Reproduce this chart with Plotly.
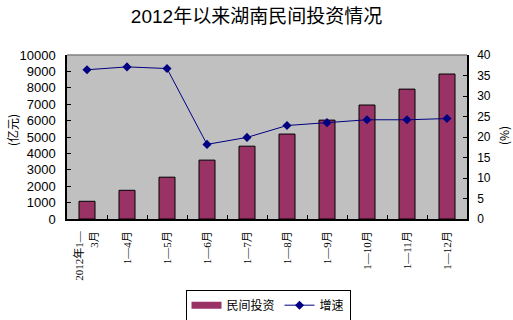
import plotly.graph_objects as go

categories = ["2012年1—<br>3月", "1—4月", "1—5月", "1—6月", "1—7月", "1—8月",
              "1—9月", "1—10月", "1—11月", "1—12月"]
investment = [1080, 1750, 2550, 3590, 4440, 5180, 6030, 6950, 7920, 8840]
growth = [36.4, 37.1, 36.7, 18.2, 19.9, 22.8, 23.5, 24.2, 24.2, 24.5]

left_ticks = list(range(0, 10001, 1000))
left_labels = [str(v) for v in left_ticks]
right_ticks = list(range(0, 41, 5))

BAR_COLOR = "#993366"
LINE_COLOR = "#000080"

fig = go.Figure()
fig.add_trace(go.Bar(
    x=categories, y=investment, name="民间投资",
    marker=dict(color=BAR_COLOR, line=dict(color="black", width=1)),
    width=0.4, yaxis="y", showlegend=False,
))
# legend swatch shaped like the wide bar key of the original
fig.add_trace(go.Scatter(
    x=[None], y=[None], name="民间投资", mode="lines",
    line=dict(color=BAR_COLOR, width=7), yaxis="y",
))
fig.add_trace(go.Scatter(
    x=categories, y=growth, name="增速", mode="lines+markers",
    line=dict(color=LINE_COLOR, width=1),
    marker=dict(symbol="diamond", size=7, color=LINE_COLOR),
    yaxis="y2",
))

fig.update_layout(
    width=513, height=320,
    margin=dict(l=67, r=46, t=55, b=101, autoexpand=False),
    paper_bgcolor="white",
    plot_bgcolor="#C0C0C0",
    title=dict(text="2012年以来湖南民间投资情况", x=0.5, xref="container", xanchor="center",
               y=1 - 16 / 320, yref="container", yanchor="middle", automargin=False,
               font=dict(family="Liberation Sans, Noto Sans CJK SC", size=19, color="black")),
    xaxis=dict(
        type="category", tickangle=-90, tickson="boundaries", ticks="inside", ticklen=4,
        tickcolor="black", showline=True, linecolor="black", linewidth=1.5,
        showgrid=False, range=[-0.5, 9.5], automargin=False, ticklabelstandoff=6,
        tickfont=dict(family="Liberation Serif, Noto Sans CJK SC", size=11, color="black"),
    ),
    yaxis=dict(
        range=[0, 10000], tickvals=left_ticks, ticktext=left_labels,
        ticks="inside", ticklen=4, tickcolor="black", automargin=False, ticklabelstandoff=7,
        showline=True, linecolor="black", linewidth=1.5, showgrid=False, zeroline=False,
        tickfont=dict(family="Liberation Sans", size=13, color="black"),
    ),
    yaxis2=dict(
        range=[0, 40], tickvals=right_ticks, overlaying="y", side="right",
        ticks="inside", ticklen=4, tickcolor="black", automargin=False, ticklabelstandoff=6,
        showline=True, linecolor="black", linewidth=1.5, showgrid=False, zeroline=False,
        tickfont=dict(family="Liberation Sans", size=12, color="black"),
    ),
    legend=dict(
        orientation="h", x=0.5025, xanchor="center", y=-0.62, yanchor="bottom",
        bordercolor="black", borderwidth=1, bgcolor="white",
        font=dict(family="Noto Sans CJK SC", size=12, color="black"),
        itemwidth=30, tracegroupgap=0,
    ),
    showlegend=True,
    bargap=0.6,
    annotations=[
        dict(text="(亿元)", textangle=-90, xref="paper", yref="paper",
             x=-0.1375, y=(219 - 130) / 164, xanchor="center", yanchor="middle",
             showarrow=False, font=dict(family="Noto Sans CJK SC", size=12, color="black")),
        dict(text="(%)", textangle=-90, xref="paper", yref="paper",
             x=1.09, y=(219 - 136) / 164, xanchor="center", yanchor="middle",
             showarrow=False, font=dict(family="Noto Sans CJK SC", size=12, color="black")),
    ],
    shapes=[
        dict(type="line", xref="paper", yref="paper", x0=0, x1=1, y0=1, y1=1,
             line=dict(color="#808080", width=1.5)),
    ],
)

fig.write_html("out.html")
